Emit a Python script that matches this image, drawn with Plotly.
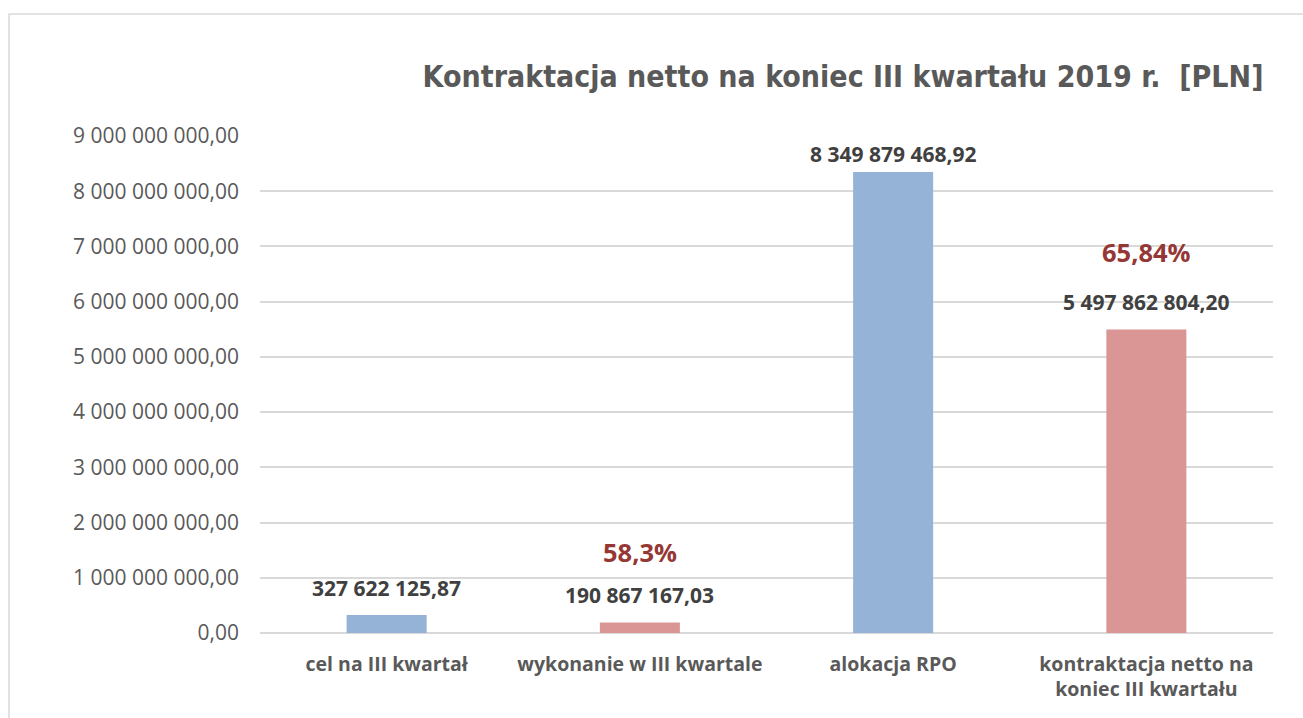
import plotly.graph_objects as go

categories = ["cel na III kwartał", "wykonanie w III kwartale", "alokacja RPO",
              "kontraktacja netto na<br>koniec III kwartału"]
values = [327622125.87, 190867167.03, 8349879468.92, 5497862804.20]
value_labels = ["327 622 125,87", "190 867 167,03", "8 349 879 468,92", "5 497 862 804,20"]
bar_colors = ["#95B3D7", "#D99694", "#95B3D7", "#D99694"]
pct_labels = {1: "58,3%", 3: "65,84%"}

tick_vals = [i * 1e9 for i in range(10)]
tick_text = ["0,00"] + ["%d 000 000 000,00" % i for i in range(1, 10)]

W, H = 1303, 718
L, R, T, B = 260, 30, 136, 85

fig = go.Figure()
fig.add_trace(go.Bar(
    x=categories, y=values,
    marker=dict(color=bar_colors, line=dict(width=0)),
    width=0.316, hoverinfo="skip",
))

annotations = []
for i, (c, v, lab) in enumerate(zip(categories, values, value_labels)):
    shift = 2 if v > 8e9 else 11
    annotations.append(dict(
        x=c, y=v, text="<b>%s</b>" % lab, showarrow=False, yanchor="bottom",
        yshift=shift, font=dict(family="Open Sans", size=21, color="#404040"),
    ))
    if i in pct_labels:
        annotations.append(dict(
            x=c, y=v, text="<b>%s</b>" % pct_labels[i], showarrow=False,
            yanchor="bottom", yshift=51 if i == 1 else 58,
            font=dict(family="Open Sans", size=25.5, color="#953735"),
        ))

fig.update_layout(
    width=W, height=H,
    margin=dict(l=L, r=R, t=T, b=B),
    paper_bgcolor="white", plot_bgcolor="white",
    showlegend=False,
    title=dict(
        text="<b>Kontraktacja netto na koniec III kwartału 2019 r.  [PLN]</b>",
        x=0.647, xanchor="center", y=1 - 76 / H, yanchor="middle",
        font=dict(family="DejaVu Sans Condensed, Liberation Sans Narrow, sans-serif",
                  size=30, color="#595959"),
    ),
    xaxis=dict(
        showgrid=False, showline=False, zeroline=False, ticks="",
        tickfont=dict(family="Open Sans", size=19.5, color="#595959", weight="bold"),
        ticklabelstandoff=17,
    ),
    yaxis=dict(
        range=[0, 9e9], tickvals=tick_vals, ticktext=tick_text,
        showgrid=True, gridcolor="#D9D9D9", gridwidth=1.5,
        zeroline=True, zerolinecolor="#D9D9D9", zerolinewidth=1.5,
        showline=False, ticks="",
        tickfont=dict(family="Open Sans", size=21, color="#595959"),
        ticklabelstandoff=20,
    ),
    annotations=annotations,
    shapes=[dict(
        type="rect", xref="paper", yref="paper",
        x0=(9 - L) / (W - L - R), x1=(W + 5 - L) / (W - L - R),
        y0=-(B + 5) / (H - T - B), y1=(H - T - B + T - 14) / (H - T - B),
        line=dict(color="#D9D9D9", width=1.5), fillcolor="rgba(0,0,0,0)",
        layer="below",
    )],
)

fig.write_html("out.html", config={"displayModeBar": False},
               post_script="document.body.style.margin='0';")
